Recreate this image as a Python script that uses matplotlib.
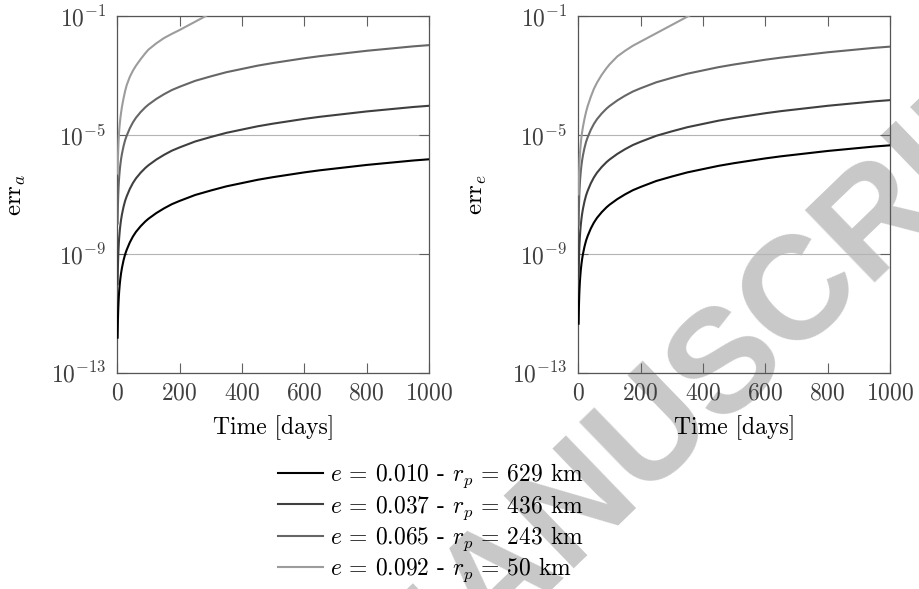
import numpy as np
import matplotlib.pyplot as plt
from matplotlib.ticker import FixedLocator, NullLocator, LogFormatterMathtext

plt.rcParams['font.family'] = 'serif'
plt.rcParams['font.serif'] = ['cmr10']
plt.rcParams['mathtext.fontset'] = 'cm'
plt.rcParams['axes.formatter.use_mathtext'] = True
plt.rcParams['font.size'] = 17

# time samples (days)
days = [1, 2, 3, 4, 5, 6, 8, 10, 12, 15, 20, 25, 30, 40, 50, 60, 75, 90, 100, 125, 150, 175,
        200, 250, 300, 350, 400, 450, 500, 550, 600, 650, 700, 750, 800, 850, 900, 950, 1000]
days_a_092 = [1, 2, 3, 4, 5, 6, 8, 10, 12, 15, 20, 25, 30, 40, 50, 60, 75, 90, 100, 125, 150,
              175, 200, 225, 250, 275, 300]
days_e_092 = [1, 2, 3, 4, 5, 6, 8, 10, 12, 15, 20, 25, 30, 40, 50, 60, 75, 90, 100, 125, 150,
              175, 200, 250, 300, 350, 400]

# log10 of err_a
log_err_a_010 = [-11.82, -11.22, -10.87, -10.62, -10.42, -10.26, -10.01, -9.82, -9.66, -9.47,
                 -9.22, -9.02, -8.87, -8.62, -8.42, -8.26, -8.07, -7.91, -7.82, -7.63, -7.47,
                 -7.33, -7.22, -7.02, -6.87, -6.73, -6.62, -6.51, -6.42, -6.34, -6.26, -6.19,
                 -6.13, -6.07, -6.01, -5.96, -5.91, -5.86, -5.82]
log_err_a_037 = [-10.02, -9.42, -9.07, -8.82, -8.62, -8.46, -8.21, -8.02, -7.86, -7.67,
                 -7.42, -7.22, -7.07, -6.82, -6.62, -6.46, -6.27, -6.11, -6.02, -5.83, -5.67,
                 -5.53, -5.42, -5.22, -5.07, -4.93, -4.82, -4.71, -4.62, -4.54, -4.46, -4.39,
                 -4.33, -4.27, -4.21, -4.16, -4.11, -4.06, -4.02]
log_err_a_065 = [-7.98, -7.38, -7.03, -6.78, -6.58, -6.42, -6.17, -5.98, -5.82, -5.63,
                 -5.38, -5.18, -5.03, -4.78, -4.58, -4.42, -4.23, -4.07, -3.98, -3.79, -3.63,
                 -3.49, -3.38, -3.18, -3.03, -2.89, -2.78, -2.67, -2.58, -2.50, -2.42, -2.35,
                 -2.29, -2.23, -2.17, -2.12, -2.07, -2.02, -1.98]
log_err_a_092 = [-6.30, -5.80, -5.48, -5.22, -5.02, -4.86, -4.62, -4.42, -4.26, -4.05,
                 -3.77, -3.53, -3.33, -3.05, -2.84, -2.67, -2.45, -2.25, -2.13, -1.92, -1.74,
                 -1.60, -1.47, -1.33, -1.19, -1.05, -0.90]

# log10 of err_e
log_err_e_010 = [-11.35, -10.75, -10.40, -10.15, -9.95, -9.79, -9.54, -9.35, -9.19, -9.00,
                 -8.75, -8.55, -8.40, -8.15, -7.95, -7.79, -7.60, -7.44, -7.35, -7.16, -7.00,
                 -6.86, -6.75, -6.55, -6.40, -6.26, -6.15, -6.04, -5.95, -5.87, -5.79, -5.72,
                 -5.66, -5.60, -5.54, -5.49, -5.44, -5.39, -5.35]
log_err_e_037 = [-9.83, -9.23, -8.88, -8.63, -8.43, -8.27, -8.02, -7.83, -7.67, -7.48,
                 -7.23, -7.03, -6.88, -6.63, -6.43, -6.27, -6.08, -5.92, -5.83, -5.64, -5.48,
                 -5.34, -5.23, -5.03, -4.88, -4.74, -4.63, -4.52, -4.43, -4.35, -4.27, -4.20,
                 -4.14, -4.08, -4.02, -3.97, -3.92, -3.87, -3.83]
log_err_e_065 = [-8.03, -7.43, -7.08, -6.83, -6.63, -6.47, -6.22, -6.03, -5.87, -5.68,
                 -5.43, -5.23, -5.08, -4.83, -4.63, -4.47, -4.28, -4.12, -4.03, -3.84, -3.68,
                 -3.54, -3.43, -3.23, -3.08, -2.94, -2.83, -2.72, -2.63, -2.55, -2.47, -2.40,
                 -2.34, -2.28, -2.22, -2.17, -2.12, -2.07, -2.03]
log_err_e_092 = [-7.00, -6.45, -6.12, -5.88, -5.68, -5.52, -5.28, -5.08, -4.92, -4.72,
                 -4.45, -4.22, -4.03, -3.72, -3.45, -3.24, -2.98, -2.76, -2.63, -2.36, -2.17,
                 -2.00, -1.86, -1.58, -1.30, -1.02, -0.75]

labels = [r'$e$ = 0.010 - $r_p$ = 629 km',
          r'$e$ = 0.037 - $r_p$ = 436 km',
          r'$e$ = 0.065 - $r_p$ = 243 km',
          r'$e$ = 0.092 - $r_p$ = 50 km']
colors = ['#000000', '#3f3f3f', '#666666', '#9c9c9c']

series_a = [(days, log_err_a_010), (days, log_err_a_037), (days, log_err_a_065), (days_a_092, log_err_a_092)]
series_e = [(days, log_err_e_010), (days, log_err_e_037), (days, log_err_e_065), (days_e_092, log_err_e_092)]

fig = plt.figure(figsize=(9.2, 5.89), dpi=100)
ax_a = fig.add_axes([0.1275, 0.3672, 0.3388, 0.6056])
ax_e = fig.add_axes([0.6286, 0.3672, 0.3388, 0.6056])

handles = []
for ax, series, ylab in [(ax_a, series_a, r'$\mathrm{err}_a$'), (ax_e, series_e, r'$\mathrm{err}_e$')]:
    ax.set_facecolor('none')
    for (t, logv), c, lab in zip(series, colors, labels):
        ln, = ax.plot(t, 10.0 ** np.array(logv), color=c, lw=1.5, label=lab, zorder=3)
        if ax is ax_a:
            handles.append(ln)
    ax.set_yscale('log')
    ax.set_xlim(0, 1000)
    ax.set_ylim(1e-13, 1e-1)
    ax.set_xticks([0, 200, 400, 600, 800, 1000])
    ax.yaxis.set_major_locator(FixedLocator([1e-13, 1e-9, 1e-5, 1e-1]))
    ax.yaxis.set_major_formatter(LogFormatterMathtext())
    ax.yaxis.set_minor_locator(NullLocator())
    ax.yaxis.grid(True, color='#b4b4b4', lw=0.8)
    ax.set_axisbelow(True)
    ax.tick_params(direction='in', top=True, right=True, length=7.5, width=0.8,
                   color='#606060', labelcolor='#404040', labelsize=17)
    ax.tick_params(axis='x', pad=7)
    ax.tick_params(axis='y', pad=8)
    for sp in ax.spines.values():
        sp.set_color('#555555')
        sp.set_linewidth(0.9)
    ax.set_xlabel('Time [days]')
    ax.xaxis.set_label_coords(0.5, -0.118)
    ax.set_ylabel(ylab, fontsize=18)
    ax.yaxis.set_label_coords(-0.285, 0.5)

fig.legend(handles, labels, loc='upper left', bbox_to_anchor=(0.302, 0.216),
           frameon=False, borderpad=0, borderaxespad=0, handlelength=1.9,
           handletextpad=0.3, labelspacing=0.12, fontsize=17)

# light grey watermark behind everything
wm = dict(rotation=44, rotation_mode='anchor', va='center', fontsize=106,
          family='Liberation Sans', weight='bold', color='#c8c8c8', zorder=-1)
fig.text(0.7543, 0.3209, 'ACCEPTED MANU', ha='right', **wm)
fig.text(0.7543, 0.3209, 'SCRIPT', ha='left', **wm)

fig.savefig('out.png', dpi=100)
